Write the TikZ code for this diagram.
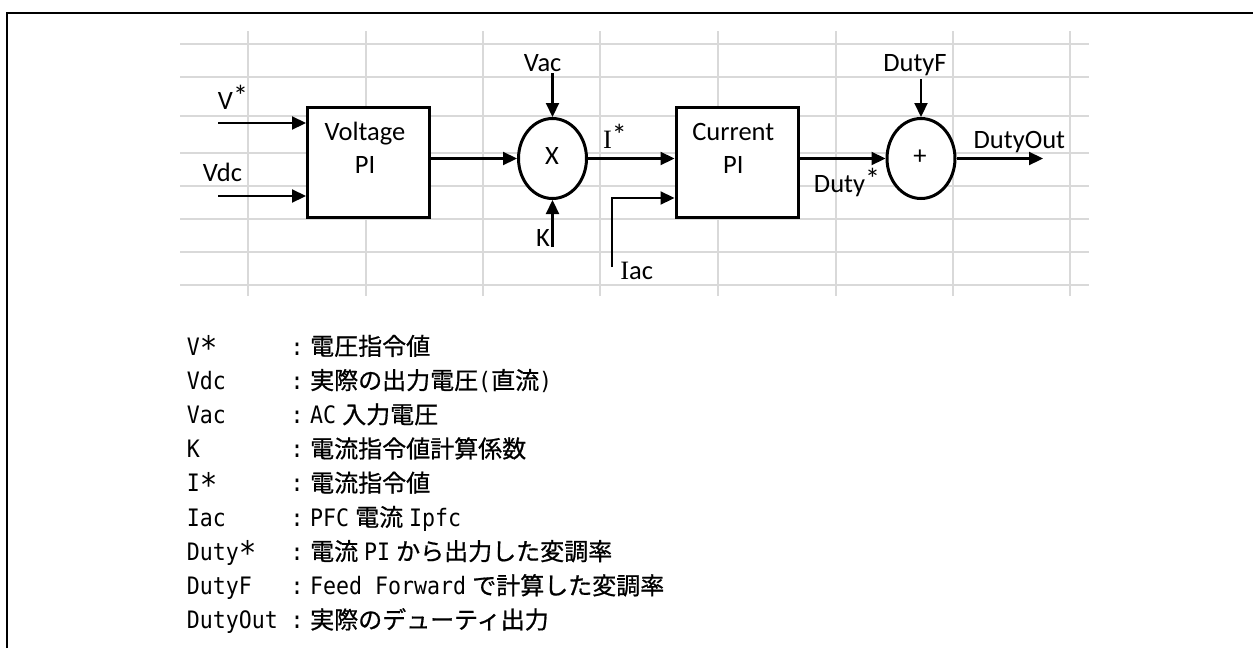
\documentclass[tikz,border=0pt]{standalone}
\usepackage{fontspec}
\usepackage{graphicx}
\setmainfont{Carlito}
\newfontfamily\jpf[FakeBold=0.7]{Noto Sans CJK JP}
\newfontfamily\monof[FakeStretch=0.9]{DejaVu Sans Mono}
\newfontfamily\serI{Liberation Serif}
\usetikzlibrary{shapes.geometric,arrows.meta,calc}
\tikzset{
  blk/.style={draw, line width=3pt, minimum width=122pt, minimum height=110pt, inner sep=0pt},
  opnode/.style={ellipse, draw, line width=3pt, minimum width=68pt, minimum height=80pt, inner sep=0pt},
  arr/.style={line width=2.2pt, -{Triangle[length=14pt,width=13pt]}},
  lbl/.style={font=\fontsize{26.5}{30}\selectfont, inner sep=0pt, anchor=base},
  legl/.style={font=\monof\fontsize{24}{30}\selectfont, inner sep=0pt, anchor=base west},
  legc/.style={font=\monof\fontsize{24}{30}\selectfont, inner sep=0pt, anchor=base},
  gridline/.style={draw=black!15, line width=1.2pt},
  frame/.style={line width=2.2pt}
}
\newcommand{\gap}{\hspace{6pt}}
\newcommand{\supast}{\makebox[9pt][l]{\raisebox{3pt}{\fontsize{30}{30}\selectfont *}}}
\newcommand{\legast}{\raisebox{-4.5pt}{\scalebox{1.35}{*}}}
\begin{document}
\begin{tikzpicture}[x=1pt,y=-1pt]
\useasboundingbox (0,0) rectangle (1253,648);
\fill[white] (0,0) rectangle (1253,648);
% frame
\draw[frame] (7,648) -- (7,13) -- (1253,13);
% grid
\foreach \gy in {44,77,116,153,186,219,252,285}
  \draw[gridline] (180,\gy) -- (1089,\gy);
\foreach \gx in {248,366,483,600,718,836,953,1070}
  \draw[gridline] (\gx,31) -- (\gx,296);
% blocks
\node[blk,fill=white] (vpi) at (368.5,162.5) {};
\node[blk,fill=white] (cpi) at (737,162.5) {};
\node[opnode,fill=white] (mul) at (552.5,158.5) {};
\node[opnode,fill=white] (sum) at (921,158.5) {};
\node[lbl] (tvolt) at (365,140.7) {Voltage};
\node[lbl] (tvpi) at (365,173.3) {PI};
\node[lbl] (tcurr) at (733.3,140.7) {Current};
\node[lbl] (tcpi) at (733.3,173.3) {PI};
\node[lbl] (tx) at (552,164) {X};
\node[lbl,anchor=center] (tplus) at (920,157) {+};
% free ends
\coordinate (vs) at (218,123);
\coordinate (vdcs) at (218,196);
\coordinate (vacs) at (552.5,73);
\coordinate (ks) at (552.5,247);
\coordinate (iacs) at (612,267);
\coordinate (iacy) at (612,198);
\coordinate (dfs) at (921,79);
\coordinate (outend) at (1043,158.5);
% connectors
\draw[arr] (vs) -- (vs -| vpi.west);
\draw[arr] (vdcs) -- (vdcs -| vpi.west);
\draw[arr] (mul.west -| vpi.east) -- (mul.west);
\draw[arr] (vacs) -- (mul.north);
\draw[arr] (ks) -- (mul.south);
\draw[arr] (mul.east) -- (mul.east -| cpi.west);
\draw[arr] (iacs) -- (iacy) -- (iacy -| cpi.west);
\draw[arr] (sum.west -| cpi.east) -- (sum.west);
\draw[arr] (dfs) -- (sum.north);
\draw[arr] (sum.east) -- (outend);
% signal labels
\node[lbl] (lvs) at (230,109) {V\supast};
\node[lbl] (lvdc) at (222.5,181) {Vdc};
\node[lbl] (lvac) at (542.7,71) {Vac};
\node[lbl] (lk) at (543,246.7) {K};
\node[lbl] (lis) at (612,148.3) {{\serI I}\supast};
\node[lbl] (liac) at (636.7,279.3) {{\serI I}ac};
\node[lbl] (ldf) at (915,71.7) {DutyF};
\node[lbl] (lds) at (844,192.3) {Duty\supast};
\node[lbl] (ldo) at (1019.4,148.3) {DutyOut};
% legend
\foreach \k/\nm/\ds [count=\i] in {
  0/V\legast/{\jpf 電圧指令値},
  1/Vdc/{{\jpf 実際の出力電圧}({\jpf 直流})},
  2/Vac/{AC\gap{\jpf 入力電圧}},
  3/K/{\jpf 電流指令値計算係数},
  4/I\legast/{\jpf 電流指令値},
  5/Iac/{PFC\gap{\jpf 電流}\gap Ipfc},
  6/Duty\legast/{{\jpf 電流}\gap PI\gap{\jpf から出力した変調率}},
  7/DutyF/{Feed Forward\gap{\jpf で計算した変調率}},
  8/DutyOut/{\jpf 実際のデューティ出力}} {
  \node[legl] (ln\i) at (186.7,355+34.2*\k) {\nm};
  \node[legc] (lc\i) at (297,355+34.2*\k) {:};
  \node[legl] (ld\i) at (310,355+34.2*\k) {\ds};
}
\end{tikzpicture}
\end{document}
